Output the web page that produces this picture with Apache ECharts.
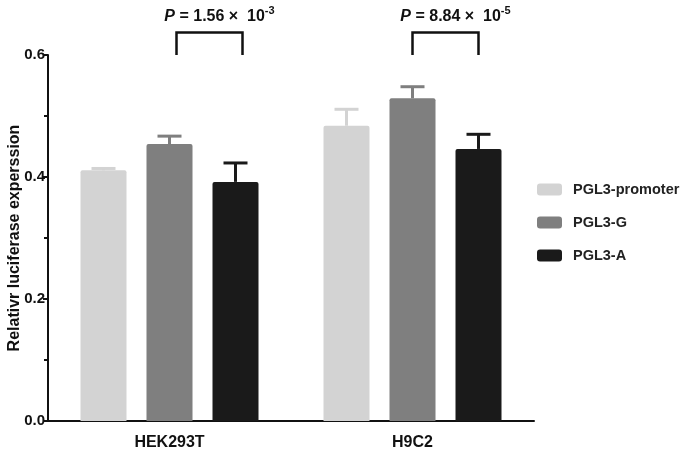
<!DOCTYPE html>
<html>
<head>
<meta charset="utf-8">
<script src="https://cdn.jsdelivr.net/npm/echarts@6/dist/echarts.min.js"></script>
<style>html,body{margin:0;padding:0;background:#fff;}#c{width:685px;height:453px;}</style>
</head>
<body>
<div id="c"></div>
<script>
const categories = ['HEK293T', 'H9C2'];
const seriesNames = ['PGL3-promoter', 'PGL3-G', 'PGL3-A'];
const promoterMean = [0.411, 0.484];
const promoterErr = [0.003, 0.027];
const gMean = [0.454, 0.529];
const gErr = [0.013, 0.019];
const aMean = [0.392, 0.446];
const aErr = [0.031, 0.024];
const pValueMantissa = ['1.56', '8.84'];
const pValueExponent = ['-3', '-5'];
const bracketBottom = 0.6;
const bracketTop = 0.637;
const yMin = 0, yMax = 0.6, yInterval = 0.2;

const colors = ['#d3d3d3', '#7f7f7f', '#1a1a1a'];
const BAR_W = 46, BAR_GAP = 20;
const FONT = '"Liberation Sans", Arial, sans-serif';
const means = [promoterMean, gMean, aMean];
const errs = [promoterErr, gErr, aErr];

function offsetOf(i) { return (i - 1) * (BAR_W + BAR_GAP); }

const series = [];
seriesNames.forEach((name, i) => {
  series.push({
    name: name, type: 'bar', data: means[i], barWidth: BAR_W, barGap: (BAR_GAP / BAR_W * 100) + '%',
    itemStyle: { color: colors[i], borderRadius: [2, 2, 0, 0] }, z: 2, silent: true
  });
});
seriesNames.forEach((name, i) => {
  series.push({
    type: 'custom', name: name + '-err', z: 3, silent: true,
    data: categories.map((c, k) => [k, means[i][k], means[i][k] + errs[i][k]]),
    renderItem: function (params, api) {
      const k = api.value(0);
      const p0 = api.coord([k, api.value(1)]);
      const p1 = api.coord([k, api.value(2)]);
      const x = p0[0] + offsetOf(i);
      const st = { stroke: colors[i], lineWidth: 3 };
      return { type: 'group', children: [
        { type: 'line', shape: { x1: x, y1: p0[1], x2: x, y2: p1[1] }, style: st },
        { type: 'line', shape: { x1: x - 12, y1: p1[1], x2: x + 12, y2: p1[1] }, style: st }
      ]};
    }
  });
});
series.push({
  type: 'custom', name: 'brackets', z: 4, silent: true, clip: false,
  data: categories.map((c, k) => [k, bracketBottom, bracketTop]),
  renderItem: function (params, api) {
    const k = api.value(0);
    const pb = api.coord([k, api.value(1)]);
    const pt = api.coord([k, api.value(2)]);
    const x0 = pb[0] + offsetOf(1) + (k === 0 ? 7 : 0);
    const x1 = pb[0] + offsetOf(2) + (k === 0 ? 7 : 0);
    return { type: 'group', children: [
      { type: 'polyline', shape: { points: [[x0, pb[1]], [x0, pt[1]], [x1, pt[1]], [x1, pb[1]]] },
        style: { stroke: '#111', lineWidth: 2.5, fill: null } },
      { type: 'text', x: (x0 + x1) / 2 + 10, y: pt[1] - 16,
        style: {
          text: '{i|P} = ' + pValueMantissa[k] + ' ×  10{s|' + pValueExponent[k] + '}',
          align: 'center', verticalAlign: 'middle',
          font: 'bold 16px ' + FONT, fill: '#111',
          rich: {
            i: { fontStyle: 'italic', fontWeight: 'bold', fontSize: 16, fontFamily: FONT, fill: '#111' },
            s: { fontWeight: 'bold', fontSize: 11, fontFamily: FONT, verticalAlign: 'top', padding: [0, 0, 10, 0], fill: '#111' }
          }
        } }
    ]};
  }
});

const chart = echarts.init(document.getElementById('c'), null, { renderer: 'canvas' });
chart.setOption({
  animation: false,
  backgroundColor: '#fff',
  color: colors,
  grid: { left: 48, right: 151, top: 55, bottom: 32, containLabel: false, outerBoundsMode: 'none' },
  legend: {
    data: seriesNames, orient: 'vertical', left: 537, top: 182, padding: 0,
    itemWidth: 25, itemHeight: 12, itemGap: 18, icon: 'roundRect', selectedMode: false,
    textStyle: { fontFamily: FONT, fontWeight: 'bold', fontSize: 14.5, color: '#222', padding: [0, 0, 0, 6] }
  },
  xAxis: {
    type: 'category', data: categories,
    axisLine: { lineStyle: { color: '#111', width: 2 } },
    axisTick: { alignWithLabel: true, length: 5, lineStyle: { color: '#111', width: 2 } },
    axisLabel: { fontFamily: FONT, fontWeight: 'bold', fontSize: 16, color: '#111', margin: 14 }
  },
  yAxis: {
    type: 'value', min: yMin, max: yMax, interval: yInterval,
    name: 'Relativr luciferase experssion', nameLocation: 'middle', nameGap: 25, nameRotate: 90,
    nameMoveOverlap: false,
    nameTextStyle: { fontFamily: FONT, fontWeight: 'bold', fontSize: 16, color: '#111' },
    axisLine: { show: true, lineStyle: { color: '#111', width: 2 } },
    axisTick: { show: true, length: 5, lineStyle: { color: '#111', width: 2 } },
    minorTick: { show: true, splitNumber: 2, length: 4, lineStyle: { color: '#111', width: 2 } },
    splitLine: { show: false },
    axisLabel: { fontFamily: FONT, fontWeight: 'bold', fontSize: 15, color: '#111', margin: 3,
      formatter: v => v.toFixed(1) }
  },
  series: series
});
</script>
</body>
</html>
